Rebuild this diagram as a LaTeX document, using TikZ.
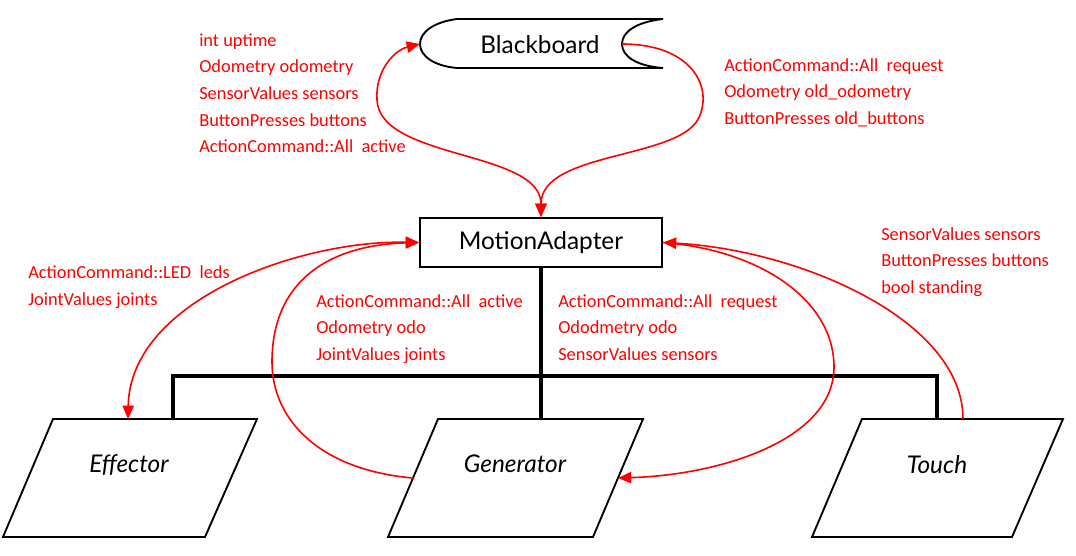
\documentclass[tikz,border=0pt]{standalone}
\usepackage{fontspec}
\setmainfont{Carlito}
\newfontfamily\blkfont{Lato}
\usetikzlibrary{arrows.meta}
\begin{document}
\begin{tikzpicture}[x=0.75pt,y=-0.75pt,
  lbl/.style={text=red, font=\fontsize{13.8}{20}\selectfont, align=left, inner sep=0pt, anchor=base west},
  blk/.style={font=\blkfont\fontsize{18.3}{20}\selectfont, inner sep=0pt, anchor=base},
  conn/.style={draw=red, line width=1.2pt},
  arr/.style={-{Triangle[length=10pt,width=8.5pt]}},
  darr/.style={{Triangle[length=10pt,width=8.5pt]}-{Triangle[length=10pt,width=8.5pt]}},
  outl/.style={draw=black, line width=1.4pt, line join=miter},
  tree/.style={draw=black, line width=2.3pt}
]
\useasboundingbox (0,0) rectangle (1076,556);
% Blackboard
\draw[outl] (457,19) -- (663,19) .. controls (636,22) and (622,32) .. (622,44)
  .. controls (622,56) and (636,66) .. (663,68) -- (457,68)
  .. controls (434,66) and (420,56) .. (420,44) .. controls (420,32) and (434,22) .. (457,19) -- cycle;
\node[blk] (bb) at (540,54) {Blackboard};
\coordinate (bbW) at (420,44);
\coordinate (bbE) at (622,44);
% MotionAdapter
\node[outl, minimum width=181.5pt, minimum height=36.75pt, inner sep=0pt, font=\blkfont\fontsize{18.3}{20}\selectfont] (ma) at (541,242.5) {MotionAdapter};
% Parallelograms
\draw[outl] (53,419) -- (257,419) -- (205,537) -- (3,537) -- cycle;
\draw[outl] (438,419) -- (643,419) -- (593,537) -- (388,537) -- cycle;
\draw[outl] (862,419) -- (1063,419) -- (1012,537) -- (812,537) -- cycle;
\node[blk] (eff) at (129,472) {\itshape Effector};
\node[blk] (gen) at (515,472) {\itshape Generator};
\node[blk] (tou) at (937,473) {\itshape Touch};
\coordinate (effT) at (128,419);
\coordinate (effJ) at (173,419);
\coordinate (genT) at (541,419);
\coordinate (genL) at (413,478);
\coordinate (genR) at (618,478);
\coordinate (touT) at (963,419);
\coordinate (touJ) at (937,419);
% tree
\draw[tree] (ma.south) -- (genT);
\draw[tree] (effJ) -- ++(0,-43) -| (touJ);
% red connectors
\draw[conn,darr] (ma.north) .. controls (541,150) and (380,160) .. (377,100)
  .. controls (375,70) and (395,50) .. (bbW);
\draw[conn,arr] (bbE) .. controls (690,44) and (712,85) .. (700,115)
  .. controls (685,160) and (541,150) .. (ma.north);
\draw[conn,darr] (effT) .. controls (130,300) and (300,240) .. (ma.west);
\draw[conn,arr] (genL) .. controls (320,470) and (272,420) .. (272,362)
  .. controls (272,280) and (330,245) .. (ma.west);
\draw[conn,arr] (ma.east) .. controls (760,250) and (834,300) .. (834,367)
  .. controls (834,440) and (720,475) .. (genR);
\draw[conn,arr] (touT) .. controls (963,320) and (800,250) .. (ma.east);
% labels (anchored at the baseline of their last line)
\node[lbl] (l1) at (199,153) {int uptime\\Odometry odometry\\SensorValues sensors\\ButtonPresses buttons\\ActionCommand::All\ \ active};
\node[lbl] (l2) at (724,124.5) {ActionCommand::All\ \ request\\Odometry old\_odometry\\ButtonPresses old\_buttons};
\node[lbl] (l3) at (28,305.5) {ActionCommand::LED\ \ leds\\JointValues joints};
\node[lbl] (l4) at (316,360.5) {ActionCommand::All\ \ active\\Odometry odo\\JointValues joints};
\node[lbl] (l5) at (558,360.5) {ActionCommand::All\ \ request\\Ododmetry odo\\SensorValues sensors};
\node[lbl] (l6) at (881,293.5) {SensorValues sensors\\ButtonPresses buttons\\bool standing};
\end{tikzpicture}
\end{document}
